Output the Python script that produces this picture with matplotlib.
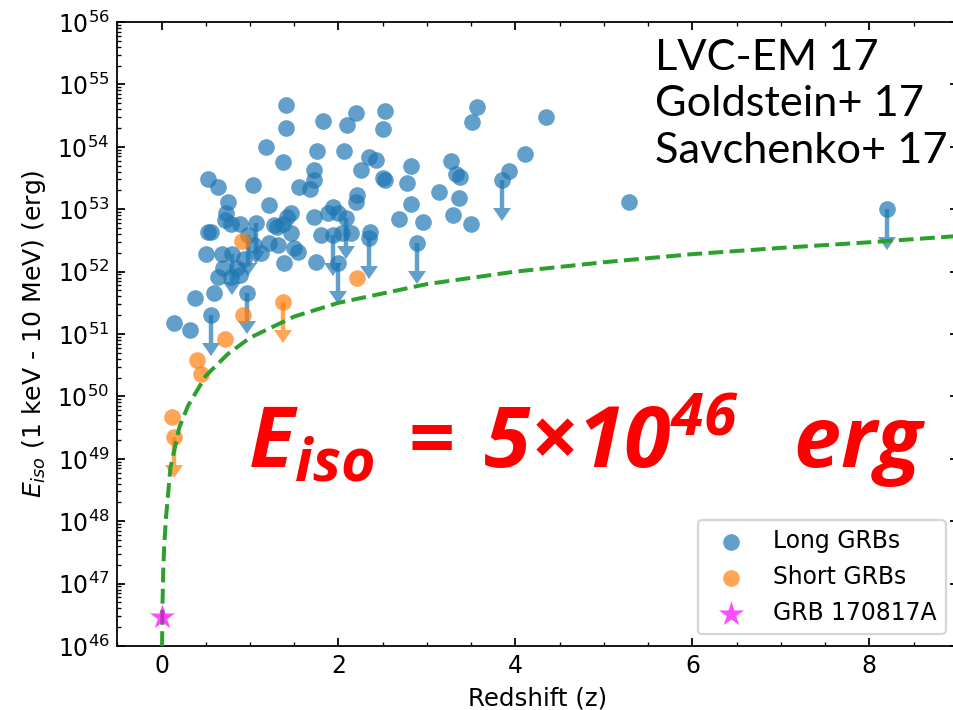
import numpy as np
import matplotlib
matplotlib.use("Agg")
import matplotlib.pyplot as plt
from matplotlib.ticker import LogLocator, NullFormatter, MultipleLocator

plt.rcParams["font.size"] = 10.6
plt.rcParams["mathtext.fontset"] = "custom"
plt.rcParams["mathtext.bf"] = "Open Sans:bold:italic"

# Long GRBs with measured redshift: (z, log10 Eiso [erg])
long_z = [1.41, 1.41, 1.82, 2.20, 2.53, 2.10, 2.50, 1.18, 1.37, 1.76,
          2.06, 2.34, 2.42, 2.26, 2.50, 2.53, 2.82, 2.77, 3.14, 3.57,
          3.51, 4.35, 3.27, 3.33, 3.37, 3.36, 2.82, 2.68, 2.95, 3.29,
          3.50, 3.93, 4.11, 5.28, 1.72, 1.72, 1.55, 1.68, 2.21, 2.20,
          1.94, 2.00, 1.88, 1.72, 1.46, 2.36, 1.80, 2.04, 2.14, 0.53,
          0.64, 1.03, 0.75, 0.73, 0.72, 1.21, 0.52, 0.56, 0.78, 0.89,
          1.27, 1.37, 1.42, 1.46, 1.50, 1.31, 1.04, 0.50, 0.68, 1.38,
          0.64, 0.78, 0.89, 0.38, 0.59, 0.14, 0.32, 1.75, 1.54, 1.21,
          1.32, 0.85, 1.12, 0.70, 0.93]
long_logE = [54.67, 54.30, 54.42, 54.54, 54.57, 54.35, 54.29, 54.00, 53.76, 53.93,
             53.94, 53.84, 53.79, 53.63, 53.50, 53.46, 53.70, 53.42, 53.28, 54.64,
             54.39, 54.48, 53.77, 53.57, 53.52, 53.18, 53.08, 52.84, 52.79, 52.91,
             52.77, 53.61, 53.88, 53.12, 53.63, 53.47, 53.35, 53.32, 53.23, 53.12,
             53.04, 52.94, 52.94, 52.88, 52.94, 52.63, 52.59, 52.62, 52.62, 53.48,
             53.36, 53.39, 53.12, 52.94, 52.83, 53.06, 52.63, 52.63, 52.77, 52.77,
             52.75, 52.77, 52.88, 52.62, 52.38, 52.71, 52.43, 52.28, 52.28, 52.14,
             51.91, 51.91, 51.94, 51.58, 51.66, 51.18, 51.06, 52.15, 52.32, 52.46,
             52.43, 52.05, 52.30, 52.05, 52.20]

# Long GRBs where Eiso is an upper limit
long_lim_z = [8.20, 3.85, 2.89, 2.34, 2.09, 1.94, 2.00, 0.56, 0.97, 1.07, 0.80, 0.98]
long_lim_logE = [53.00, 53.47, 52.46, 52.54, 52.86, 52.59, 52.14, 51.30, 51.66, 52.78, 52.29, 52.59]

# Short GRBs
short_z = [0.91, 2.21, 0.92, 0.72, 0.40, 0.45, 0.12]
short_logE = [52.49, 51.90, 51.30, 50.92, 50.58, 50.36, 49.67]
short_lim_z = [1.37, 0.14]
short_lim_logE = [51.51, 49.35]

# GRB 170817A
star_z = [0.0098]
star_logE = [46.47]

# sensitivity curve: Eiso for the GRB 170817A fluence moved to redshift z
curve_z = [0.006, 0.01, 0.02, 0.03, 0.05, 0.1, 0.2, 0.3, 0.5, 0.75,
           1.0, 1.5, 2.0, 3.0, 4.0, 5.0, 6.0, 7.0, 8.0, 9.0]
curve_logE = [46.0, 46.6, 47.25, 47.6, 48.05, 48.85, 49.5, 49.85, 50.33, 50.68,
              50.94, 51.28, 51.50, 51.80, 52.0, 52.15, 52.28, 52.38, 52.47, 52.57]

lim_drop = 0.45  # length of the upper-limit arrows in decades
alpha = 0.7
msize = 7.5

fig = plt.figure(figsize=(953 / 160, 710 / 160), dpi=160)
ax = fig.add_axes([117.3 / 953, 64 / 710, (957.8 - 117.3) / 953, 624 / 710])

E = 10 ** np.array(long_logE)
ax.scatter(long_z, E, s=msize ** 2, color="C0", alpha=alpha, linewidths=0,
           label="Long GRBs", zorder=2)
E = 10 ** np.array(long_lim_logE)
ax.errorbar(long_lim_z, E, yerr=E * (1 - 10 ** -lim_drop), uplims=True, fmt="o",
            color="C0", alpha=alpha, ms=msize, mew=0, elinewidth=2, capsize=4,
            zorder=2)

E = 10 ** np.array(short_logE)
ax.scatter(short_z, E, s=msize ** 2, color="C1", alpha=alpha, linewidths=0,
           label="Short GRBs", zorder=2.5)
E = 10 ** np.array(short_lim_logE)
ax.errorbar(short_lim_z, E, yerr=E * (1 - 10 ** -lim_drop), uplims=True, fmt="o",
            color="C1", alpha=alpha, ms=msize, mew=0, elinewidth=2, capsize=4,
            zorder=2.5)

ax.plot(curve_z, 10 ** np.array(curve_logE), "--", color="C2", lw=1.8, zorder=3)

ax.scatter(star_z, 10 ** np.array(star_logE), marker="*", s=140, color="magenta",
           alpha=alpha, linewidths=0, label="GRB 170817A", zorder=4)

ax.set_yscale("log")
ax.set_xlim(-0.5, 9)
ax.set_ylim(1e46, 1e56)
ax.yaxis.set_major_locator(LogLocator(base=10, numticks=20))
ax.yaxis.set_minor_locator(LogLocator(base=10, subs=np.arange(2, 10), numticks=200))
ax.yaxis.set_minor_formatter(NullFormatter())
ax.xaxis.set_major_locator(MultipleLocator(2))
ax.xaxis.set_minor_locator(MultipleLocator(0.5))
ax.tick_params(which="both", direction="in", top=True, right=True)

ax.set_xlabel("Redshift (z)", fontsize=11)
ax.set_ylabel(r"$E_{iso}$ (1 keV - 10 MeV) (erg)", fontsize=11.3)
ax.legend(loc="lower right", fontsize=10.6)

fig.text(655 / 953, 1 - 39 / 710, "LVC-EM 17\nGoldstein+ 17\nSavchenko+ 17",
         family="Lato", fontsize=19.5, linespacing=1.27, va="top", ha="left")
fig.text(248 / 953, 1 - 468 / 710, r"$\mathbf{E_{iso}\,=\,5×10^{46}\ \ erg}$",
         color="red", fontsize=38, va="baseline", ha="left")

fig.savefig("out.png", dpi=160)
